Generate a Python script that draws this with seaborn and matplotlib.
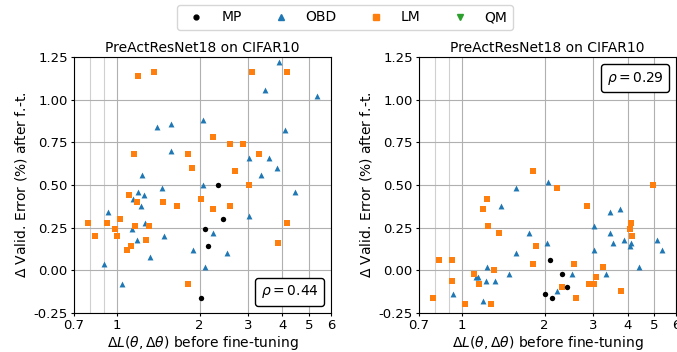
import matplotlib
matplotlib.use("Agg")
import matplotlib.pyplot as plt
from matplotlib.lines import Line2D
from matplotlib.offsetbox import AnchoredText
import seaborn as sns
import pandas as pd

# ---- data (x = Delta L before fine-tuning, y = Delta valid. error after f.-t.)
# left panel
mp_l_x = [2.02, 2.10, 2.14, 2.33, 2.44]
mp_l_y = [-0.16, 0.24, 0.14, 0.50, 0.30]
obd_l_x = [3.90, 3.46, 5.35, 1.58, 1.40, 2.06, 4.09, 1.57, 3.02, 3.57, 3.81, 3.34, 1.24, 2.05,
           1.46, 4.43, 1.20, 1.26, 1.15, 1.23, 0.933, 3.02, 1.27, 1.14, 2.23, 1.49, 1.19, 1.90,
           2.52, 1.32, 0.902, 2.10, 1.045]
obd_l_y = [1.22, 1.06, 1.02, 0.86, 0.84, 0.88, 0.82, 0.70, 0.66, 0.66, 0.60, 0.56, 0.56, 0.50,
           0.48, 0.46, 0.46, 0.44, 0.42, 0.38, 0.34, 0.32, 0.28, 0.24, 0.22, 0.20, 0.18, 0.12,
           0.10, 0.08, 0.04, 0.02, -0.08]
lm_l_x = [1.20, 1.37, 3.10, 4.14, 2.23, 2.57, 2.88, 1.16, 1.81, 3.29, 1.87, 2.70, 3.02, 2.03,
          1.105, 1.185, 1.476, 1.654, 2.59, 2.23, 1.028, 0.790, 0.923, 4.15, 1.17, 1.31, 0.986,
          0.835, 1.00, 1.28, 1.13, 1.09, 3.84, 1.82]
lm_l_y = [1.14, 1.16, 1.16, 1.16, 0.78, 0.74, 0.74, 0.68, 0.68, 0.68, 0.60, 0.58, 0.50, 0.42,
          0.44, 0.40, 0.40, 0.38, 0.38, 0.36, 0.30, 0.28, 0.28, 0.28, 0.26, 0.26, 0.24,
          0.20, 0.20, 0.18, 0.14, 0.12, 0.16, -0.08]

# right panel
mp_r_x = [2.01, 2.09, 2.13, 2.31, 2.42]
mp_r_y = [-0.14, 0.06, -0.16, -0.02, -0.10]
obd_r_x = [2.06, 1.57, 1.39, 3.77, 3.45, 3.01, 1.76, 3.46, 5.10, 3.87, 2.04, 3.55, 4.12, 4.07,
           5.32, 3.01, 1.57, 4.41, 1.24, 1.49, 2.51, 3.33, 1.13, 1.15, 1.23, 1.32, 2.22, 0.93, 1.19]
obd_r_y = [0.52, 0.48, 0.38, 0.36, 0.34, 0.26, 0.22, 0.22, 0.18, 0.18, 0.16, 0.16, 0.16, 0.14,
           0.12, 0.12, 0.10, 0.02, 0.02, -0.02, -0.02, -0.02, -0.04, -0.04, -0.06, -0.06, -0.12,
           -0.14, -0.18]
lm_r_x = [1.81, 2.22, 4.94, 1.235, 1.19, 2.85, 1.25, 1.36, 4.11, 4.08, 4.14, 1.86, 0.83, 0.92,
          1.81, 2.56, 3.27, 1.31, 1.105, 0.92, 3.08, 1.155, 2.89, 3.03, 2.31, 3.80, 0.788, 2.59,
          1.03, 1.28]
lm_r_y = [0.58, 0.48, 0.50, 0.42, 0.36, 0.38, 0.26, 0.22, 0.28, 0.24, 0.20, 0.14, 0.06, 0.06,
          0.04, 0.04, 0.02, 0.00, -0.02, -0.06, -0.04, -0.08, -0.08, -0.08, -0.10, -0.12, -0.16,
          -0.16, -0.20, -0.20]
# QM has no visible points
qm_x = []
qm_y = []

rho_left = 0.44
rho_right = 0.29

methods = ['MP', 'OBD', 'LM', 'QM']
colors = {'MP': 'black', 'OBD': '#1f77b4', 'LM': '#ff7f0e', 'QM': '#2ca02c'}
markers = {'MP': 'o', 'OBD': '^', 'LM': 's', 'QM': 'v'}
sizes = {'MP': 15, 'OBD': 18, 'LM': 15, 'QM': 18}

xticks = [0.7, 1, 2, 3, 4, 5, 6]
yticks = [-0.25, 0, 0.25, 0.5, 0.75, 1.0, 1.25]


def make_df(parts):
    rows = []
    for name, xs, ys in parts:
        for x, y in zip(xs, ys):
            rows.append({'dL': x, 'err': y, 'method': name})
    return pd.DataFrame(rows)


df_left = make_df([('MP', mp_l_x, mp_l_y), ('OBD', obd_l_x, obd_l_y), ('LM', lm_l_x, lm_l_y),
                   ('QM', qm_x, qm_y)])
df_right = make_df([('MP', mp_r_x, mp_r_y), ('OBD', obd_r_x, obd_r_y), ('LM', lm_r_x, lm_r_y),
                    ('QM', qm_x, qm_y)])

plt.rcParams['font.size'] = 10
fig = plt.figure(figsize=(6.77, 3.52), dpi=100)
ax1 = fig.add_axes([0.1093, 0.1108, 0.3796, 0.727])
ax2 = fig.add_axes([0.6190, 0.1108, 0.3796, 0.727])


def draw(ax, df, rho, loc):
    for m in ['OBD', 'LM', 'MP']:
        sub = df[df['method'] == m]
        sns.scatterplot(data=sub, x='dL', y='err', ax=ax, color=colors[m], marker=markers[m],
                        s=sizes[m], linewidth=0, zorder=3)
    ax.set_xscale('log')
    ax.set_xlim(0.7, 6)
    ax.set_ylim(-0.25, 1.25)
    ax.set_xticks(xticks)
    ax.set_xticklabels([str(t) for t in xticks])
    ax.set_xticks([0.8, 0.9], minor=True)
    ax.set_xticklabels(['', ''], minor=True)
    ax.tick_params(axis='x', which='minor', length=0)
    ax.tick_params(axis='both', which='major', length=2.5, pad=2, labelsize=9.5)
    ax.set_yticks(yticks)
    ax.set_yticklabels(['%.2f' % t for t in yticks])
    ax.grid(True, which='major', color='#b0b0b0', linewidth=0.8)
    ax.grid(True, which='minor', color='#d0d0d0', linewidth=0.8)
    ax.set_axisbelow(True)
    ax.set_title('PreActResNet18 on CIFAR10', fontsize=10, pad=4)
    ax.set_xlabel(r'$\Delta L(\theta, \Delta\theta)$ before fine-tuning', fontsize=10, labelpad=1)
    ax.set_ylabel(r'$\Delta$ Valid. Error (%) after f.-t.', fontsize=10, labelpad=3)
    at = AnchoredText(r'$\rho = %.2f$' % rho, loc=loc, prop=dict(size=10), frameon=True)
    at.patch.set_boxstyle('round,pad=0.,rounding_size=0.2')
    ax.add_artist(at)


draw(ax1, df_left, rho_left, 'lower right')
draw(ax2, df_right, rho_right, 'upper right')

handles = [Line2D([], [], linestyle='none', marker=markers[m], color=colors[m],
                  markersize=3.5 if m == 'MP' else 4, label=m) for m in methods]
fig.legend(handles=handles, loc='upper center', ncol=4, bbox_to_anchor=(0.5096, 0.986),
           borderaxespad=0, fontsize=10, columnspacing=1.8, handlelength=2.0, frameon=True)

fig.savefig('out.png', dpi=100)
